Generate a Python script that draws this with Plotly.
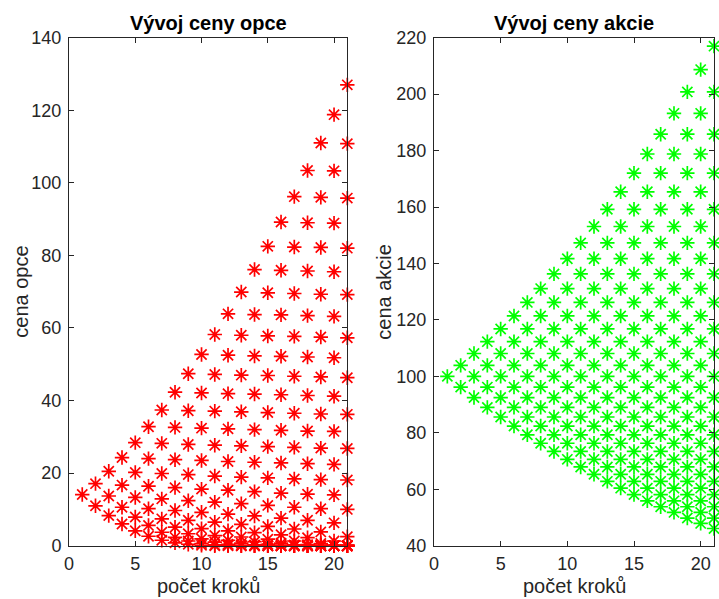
import plotly.graph_objects as go

# Option value at each step (1..21), listed from the highest node down
option_steps = [
    [14.1],
    [17.1, 11.0],
    [20.5, 13.7, 8.3],
    [24.3, 16.7, 10.6, 6.0],
    [28.4, 20.2, 13.3, 7.9, 4.1],
    [32.8, 24.0, 16.4, 10.2, 5.6, 2.6],
    [37.4, 28.2, 19.9, 12.9, 7.4, 3.7, 1.5],
    [42.3, 32.6, 23.7, 16.0, 9.7, 5.1, 2.3, 0.8],
    [47.4, 37.2, 27.9, 19.6, 12.4, 7.0, 3.3, 1.3, 0.4],
    [52.7, 42.1, 32.4, 23.5, 15.6, 9.2, 4.7, 1.9, 0.6, 0.1],
    [58.2, 47.2, 37.1, 27.7, 19.2, 12.0, 6.5, 2.8, 1.0, 0.2, 0.0],
    [63.9, 52.5, 41.9, 32.2, 23.2, 15.3, 8.7, 4.1, 1.5, 0.4, 0.1, 0.0],
    [69.9, 58.0, 47.0, 36.9, 27.5, 18.9, 11.6, 5.9, 2.4, 0.7, 0.1, 0.0, 0.0],
    [76.1, 63.7, 52.3, 41.8, 32.0, 23.0, 14.9, 8.2, 3.6, 1.1, 0.2, 0.0, 0.0, 0.0],
    [82.5, 69.7, 57.8, 46.9, 36.7, 27.3, 18.7, 11.1, 5.3, 1.8, 0.4, 0.0, 0.0, 0.0, 0.0],
    [89.2, 75.9, 63.6, 52.2, 41.6, 31.8, 22.8, 14.5, 7.6, 3.0, 0.7, 0.1, 0.0, 0.0, 0.0, 0.0],
    [96.2, 82.3, 69.5, 57.7, 46.7, 36.5, 27.1, 18.4, 10.6, 4.6, 1.3, 0.2, 0.0, 0.0, 0.0, 0.0, 0.0],
    [103.4, 89.0, 75.7, 63.4, 52.0, 41.4, 31.6, 22.6, 14.2, 7.0, 2.2, 0.3, 0.0, 0.0, 0.0, 0.0, 0.0, 0.0],
    [111.0, 96.0, 82.2, 69.3, 57.5, 46.5, 36.3, 26.9, 18.2, 10.2, 3.8, 0.6, 0.0, 0.0, 0.0, 0.0, 0.0, 0.0, 0.0],
    [118.8, 103.3, 88.9, 75.5, 63.2, 51.8, 41.2, 31.5, 22.4, 14.0, 6.3, 1.3, 0.0, 0.0, 0.0, 0.0, 0.0, 0.0, 0.0, 0.0],
    [127.0, 110.8, 95.8, 82.0, 69.2, 57.3, 46.3, 36.2, 26.8, 18.1, 10.0, 2.5, 0.0, 0.0, 0.0, 0.0, 0.0, 0.0, 0.0, 0.0, 0.0],
]

# Stock price levels of the tree, from the lowest to the highest
stock_levels = [
    46.1, 47.9, 49.8, 51.8, 53.8, 55.9, 58.1, 60.4, 62.8, 65.3, 67.9,
    70.6, 73.4, 76.3, 79.3, 82.4, 85.6, 89.0, 92.5, 96.2, 100.0, 103.9,
    108.1, 112.3, 116.8, 121.4, 126.2, 131.1, 136.3, 141.7, 147.3, 153.1, 159.2,
    165.4, 172.0, 178.8, 185.8, 193.2, 200.8, 208.7, 217.0,
]

x_ticks = [0, 5, 10, 15, 20]
opt_ticks = [0, 20, 40, 60, 80, 100, 120, 140]
stock_ticks = [40, 60, 80, 100, 120, 140, 160, 180, 200, 220]

titles = ["Vývoj ceny opce", "Vývoj ceny akcie"]
xlabel = "počet kroků"
ylabels = ["cena opce", "cena akcie"]

# flatten option tree
ox, oy = [], []
for k, col in enumerate(option_steps, start=1):
    ox += [k] * len(col)
    oy += col

# stock tree: at step k the nodes sit on every second level around the centre
mid = len(stock_levels) // 2
sx, sy = [], []
for k in range(1, len(option_steps) + 1):
    for i in range(k):
        sx.append(k)
        sy.append(stock_levels[mid + (k - 1) - 2 * i])

FONT = "Liberation Sans, Arial, Helvetica, sans-serif"
AX = "#262626"
W, H = 719, 599

fig = go.Figure()
fig.add_trace(go.Scatter(x=ox, y=oy, mode="markers", xaxis="x", yaxis="y", cliponaxis=False,
                         marker=dict(symbol="asterisk-open", size=12, color="#ff0000",
                                     line=dict(color="#ff0000", width=1.7)), showlegend=False))
fig.add_trace(go.Scatter(x=sx, y=sy, mode="markers", xaxis="x2", yaxis="y2", cliponaxis=False,
                         marker=dict(symbol="asterisk-open", size=12, color="#00ff00",
                                     line=dict(color="#00ff00", width=1.7)), showlegend=False))

ydom = [1 - 545.7 / H, 1 - 37.7 / H]
xdom1 = [69 / W, 347.3 / W]
xdom2 = [434 / W, 714 / W]

common = dict(showline=True, mirror="ticks", linecolor=AX, linewidth=1, ticks="inside",
              ticklen=5, tickcolor=AX, tickwidth=1, showgrid=False, zeroline=False,
              automargin=False, tickfont=dict(family=FONT, size=18, color=AX))

fig.update_layout(
    width=W, height=H, margin=dict(l=0, r=0, t=0, b=0, autoexpand=False),
    paper_bgcolor="white", plot_bgcolor="white",
    xaxis=dict(domain=xdom1, range=[0, 21], tickvals=x_ticks, anchor="y", ticklabelstandoff=2, **common),
    yaxis=dict(domain=ydom, range=[0, 140], tickvals=opt_ticks, anchor="x", ticklabelstandoff=3, **common),
    xaxis2=dict(domain=xdom2, range=[0, 21], tickvals=x_ticks, anchor="y2", ticklabelstandoff=2, **common),
    yaxis2=dict(domain=ydom, range=[40, 220], tickvals=stock_ticks, anchor="x2", ticklabelstandoff=3, **common),
)

centers = [(xdom1[0] + xdom1[1]) / 2, (xdom2[0] + xdom2[1]) / 2]
for c, t in zip(centers, titles):
    fig.add_annotation(text="<b>%s</b>" % t, x=c, y=1 - 23.5 / H, xref="paper", yref="paper",
                       showarrow=False, xanchor="center", yanchor="middle",
                       font=dict(family=FONT, size=20, color="black"))
    fig.add_annotation(text=xlabel, x=c, y=1 - 573 / H, xref="paper", yref="paper",
                       showarrow=False, xanchor="center", yanchor="top",
                       font=dict(family=FONT, size=20, color=AX))
for xp, t in zip([21, 384], ylabels):
    fig.add_annotation(text=t, x=xp / W, y=(ydom[0] + ydom[1]) / 2, xref="paper", yref="paper",
                       showarrow=False, xanchor="center", yanchor="middle", textangle=-90,
                       font=dict(family=FONT, size=20, color=AX))

fig.write_html("out.html")
